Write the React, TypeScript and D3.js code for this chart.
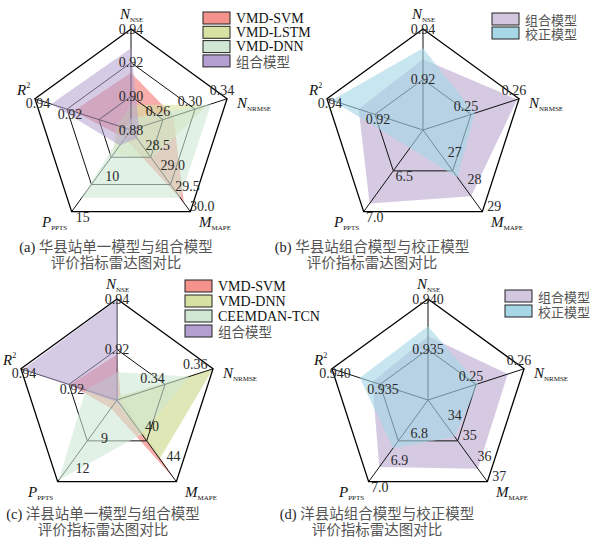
import React from 'react';
import * as d3 from 'd3';

// ---------- data ----------
// axis order: NSE, NRMSE, MAPE, PPTS, R2
const axisLetters = ['N', 'N', 'M', 'P', 'R'];
const axisSubs = ['NSE', 'NRMSE', 'MAPE', 'PPTS', ''];

// (a) 华县站单一模型与组合模型
const aModels = ['VMD-SVM', 'VMD-LSTM', 'VMD-DNN', '组合模型'];
const aNSE = [0.914, 0.895, 0.887, 0.9286];
const aNRMSE = [0.273, 0.316, 0.32, 0.23];
const aMAPE = [29.78, 28.7, 29.66, 28.2];
const aPPTS = [6.0, 8.0, 13.3, 6.9];
const aR2 = [0.916, 0.889, 0.8836, 0.9298];
const aMin = [0.88, 0.22, 28, 5, 0.88];
const aMax = [0.94, 0.34, 30, 15, 0.94];
const aTicks = [['0.88', '0.90', '0.92', '0.94'], ['0.26', '0.30', '0.34'], ['28.5', '29.0', '29.5', '30.0'], ['10', '15'], ['0.92', '0.94']];

// (b) 华县站组合模型与校正模型
const bModels = ['组合模型', '校正模型'];
const bNSE = [0.928, 0.9324];
const bNRMSE = [0.2596, 0.2508];
const bMAPE = [28.43, 27.74];
const bPPTS = [6.9, 6.22];
const bR2 = [0.9268, 0.938];
const bMin = [0.9, 0.24, 26, 6, 0.9];
const bMax = [0.94, 0.26, 29, 7, 0.94];
const bTicks = [['0.92', '0.94'], ['0.25', '0.26'], ['27', '28', '29'], ['6.5', '7.0'], ['0.92', '0.94']];

// (c) 洋县站单一模型与组合模型
const cModels = ['VMD-SVM', 'VMD-DNN', 'CEEMDAN-TCN', '组合模型'];
const cNSE = [0.918, 0.9012, 0.911, 0.9396];
const cNRMSE = [0.3228, 0.366, 0.3548, 0.3215];
const cMAPE = [46.47, 43.69, 40.36, 36.81];
const cPPTS = [6.61, 5.96, 13.74, 5.96];
const cR2 = [0.9196, 0.904, 0.913, 0.9392];
const cMin = [0.9, 0.321, 35.7, 5.8, 0.9];
const cMax = [0.94, 0.366, 46.8, 13.9, 0.94];
const cTicks = [['0.92', '0.94'], ['0.34', '0.36'], ['40', '44'], ['9', '12'], ['0.92', '0.94']];

// (d) 洋县站组合模型与校正模型
const dModels = ['组合模型', '校正模型'];
const dNSE = [0.9363, 0.9373];
const dNRMSE = [0.2566, 0.2504];
const dMAPE = [36.36, 34.8];
const dPPTS = [6.946, 6.877];
const dR2 = [0.9358, 0.9371];
const dMin = [0.93, 0.24, 33, 6.7, 0.93];
const dMax = [0.94, 0.26, 37, 7.0, 0.94];
const dTicks = [['0.935', '0.940'], ['0.25', '0.26'], ['34', '35', '36', '37'], ['6.8', '6.9', '7.0'], ['0.935', '0.940']];

const captionsA = ['华县站单一模型与组合模型', '评价指标雷达图对比'];
const captionsB = ['华县站组合模型与校正模型', '评价指标雷达图对比'];
const captionsC = ['洋县站单一模型与组合模型', '评价指标雷达图对比'];
const captionsD = ['洋县站组合模型与校正模型', '评价指标雷达图对比'];

// ---------- styles ----------
const R = 101;
const SERIF = "'Liberation Serif','Times New Roman',serif";
const CJK = "'Noto Sans CJK SC','Noto Sans',sans-serif";
const RED = '#f4928c';
const YEL = '#d6e1a2';
const GRN = '#cfe7d3';
const PUR = '#b4a0d0';
const PUR2 = '#d3c7e0';
const BLU = '#a7d7e7';

const LABEL_OFF = [[0, 0], [-5, -8], [12, -5], [11, 6], [3, 5]];
const TITLE_POS = [[-11, -111], [106, -22], [68, 97], [-89, 97], [-114, -35]];

const isCJK = (s: string) => /[\u4e00-\u9fff]/.test(s);

type PanelProps = {
  cx: number; cy: number;
  models: string[];
  values: number[][];
  mins: number[]; maxs: number[];
  ticks: string[][];
  colors: string[]; opac: number[];
  below: number;
  levels: number[];
  legend: { x: number; y: number; dy: number; cjk: number };
  tag: string; caption: string[]; capX: number; capY: number;
};

const angle = (i: number) => (i * 2 * Math.PI) / 5;
const pt = (i: number, r: number): [number, number] => [r * Math.sin(angle(i)), -r * Math.cos(angle(i))];

function Panel(p: PanelProps) {
  const scales = p.mins.map((m, i) => d3.scaleLinear().domain([m, p.maxs[i]]).range([0, R]));
  const radial = d3.lineRadial<number>().angle((_, i) => angle(i)).radius((d) => d).curve(d3.curveLinearClosed);
  const poly = (k: number) => radial(p.values.map((arr, i) => scales[i](arr[k])));
  const ring = (f: number) => radial([0, 1, 2, 3, 4].map(() => f * R));
  const fills = p.models.map((_, k) => (
    <path key={k} d={poly(k) || ''} fill={p.colors[k]} fillOpacity={p.opac[k]} stroke="none" />
  ));
  return (
    <g>
      <g transform={`translate(${p.cx},${p.cy})`}>
        {fills.slice(0, p.below)}
        {p.levels.map((f, j) => (
          <path key={'l' + j} d={ring(f) || ''} fill="none" stroke="#111" strokeWidth={1} />
        ))}
        {[0, 1, 2, 3, 4].map((i) => {
          const [x, y] = pt(i, R);
          return <line key={'s' + i} x1={0} y1={0} x2={x} y2={y} stroke="#111" strokeWidth={1} />;
        })}
        <path d={ring(1) || ''} fill="none" stroke="#000" strokeWidth={1.3} />
        {fills.slice(p.below)}
        {p.ticks.map((arr, i) =>
          arr.map((t) => {
            const [x, y] = pt(i, scales[i](parseFloat(t)));
            return (
              <text key={i + t} x={x + LABEL_OFF[i][0]} y={y + LABEL_OFF[i][1]} textAnchor="middle"
                dominantBaseline="central" fontFamily={SERIF} fontSize={14} fill="#2a2a2a">{t}</text>
            );
          })
        )}
        {[0, 1, 2, 3, 4].map((i) => (
          <text key={'t' + i} x={TITLE_POS[i][0]} y={TITLE_POS[i][1]} fontFamily={SERIF} fill="#111">
            <tspan fontStyle="italic" fontSize={15}>{axisLetters[i]}</tspan>
            {axisSubs[i] ? (
              <tspan fontSize={7} dy={3}>{axisSubs[i]}</tspan>
            ) : (
              <tspan fontSize={8} dy={-7}>2</tspan>
            )}
          </text>
        ))}
      </g>
      {p.models.map((m, k) => {
        const y = p.legend.y + k * p.legend.dy;
        return (
          <g key={'lg' + k}>
            <rect x={p.legend.x} y={y - 6} width={27} height={12} fill={p.colors[k]} stroke="#222" strokeWidth={1} />
            <text x={p.legend.x + 33} y={y} dominantBaseline="central"
              fontFamily={isCJK(m) ? CJK : SERIF} fontSize={isCJK(m) ? p.legend.cjk : 14}
              fill={isCJK(m) ? '#555' : '#111'}>{m}</text>
          </g>
        );
      })}
      <text x={p.capX} y={p.capY} textAnchor="middle" fontSize={14.5}>
        <tspan fontFamily={SERIF} fill="#222">{p.tag} </tspan>
        <tspan fontFamily={CJK} fill="#555">{p.caption[0]}</tspan>
      </text>
      <text x={p.capX} y={p.capY + 16} textAnchor="middle" fontSize={14.5} fontFamily={CJK} fill="#555">{p.caption[1]}</text>
    </g>
  );
}

export default function App() {
  return (
    <svg width={593} height={539} style={{ position: 'absolute', left: 0, top: 0, background: '#fff' }}>
      <rect width={593} height={539} fill="#fff" />
      <Panel cx={131} cy={130} models={aModels} values={[aNSE, aNRMSE, aMAPE, aPPTS, aR2]}
        mins={aMin} maxs={aMax} ticks={aTicks} colors={[RED, YEL, GRN, PUR]} opac={[0.75, 0.6, 0.6, 0.55]}
        below={2} levels={[1 / 3, 2 / 3]} legend={{ x: 203, y: 18, dy: 14.3, cjk: 13.5 }}
        tag="(a)" caption={captionsA} capX={116} capY={252} />
      <Panel cx={423} cy={130} models={bModels} values={[bNSE, bNRMSE, bMAPE, bPPTS, bR2]}
        mins={bMin} maxs={bMax} ticks={bTicks} colors={[PUR2, BLU]} opac={[0.95, 0.62]}
        below={1} levels={[0.5]} legend={{ x: 492, y: 19, dy: 14, cjk: 13 }}
        tag="(b)" caption={captionsB} capX={372} capY={252} />
      <Panel cx={117} cy={400} models={cModels} values={[cNSE, cNRMSE, cMAPE, cPPTS, cR2]}
        mins={cMin} maxs={cMax} ticks={cTicks} colors={[RED, YEL, GRN, PUR]} opac={[0.75, 0.8, 0.6, 0.55]}
        below={2} levels={[0.5]} legend={{ x: 185, y: 286, dy: 15, cjk: 13.5 }}
        tag="(c)" caption={captionsC} capX={103} capY={519} />
      <Panel cx={428} cy={400} models={dModels} values={[dNSE, dNRMSE, dMAPE, dPPTS, dR2]}
        mins={dMin} maxs={dMax} ticks={dTicks} colors={[PUR2, BLU]} opac={[0.95, 0.62]}
        below={1} levels={[0.5]} legend={{ x: 505, y: 296, dy: 15, cjk: 13 }}
        tag="(d)" caption={captionsD} capX={377} capY={519} />
    </svg>
  );
}
